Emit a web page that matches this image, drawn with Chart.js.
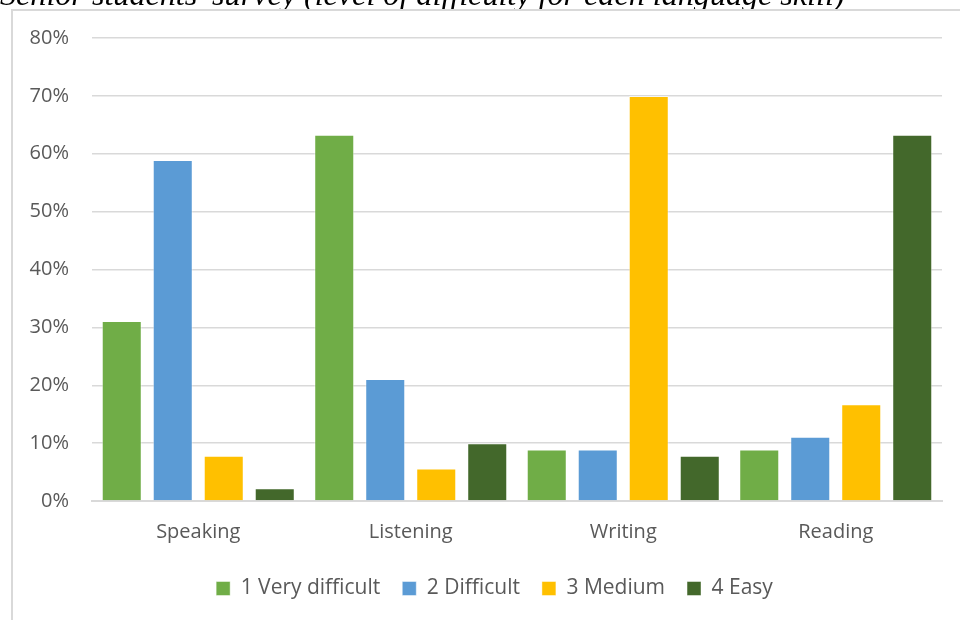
<!DOCTYPE html>
<html>
<head>
<meta charset="utf-8">
<script src="https://cdn.jsdelivr.net/npm/chart.js@4"></script>
<style>
  html, body { margin: 0; padding: 0; background: #fff; overflow: hidden; }
  body { width: 960px; height: 620px; position: relative; }
  #title { position: absolute; left: 0; top: 0; }
  #frame {
    position: absolute; left: 11px; top: 9px; width: 960px; height: 620px;
    border-left: 2px solid #d9d9d9; border-top: 2px solid #d9d9d9;
    background: #fff;
  }
  #frame canvas { position: absolute; left: 0; top: 0; }
</style>
</head>
<body>
<canvas id="title" width="960" height="20"></canvas>
<div id="frame"><canvas id="chart" width="947" height="609"></canvas></div>
<script>
// data (percent of respondents)
const skills = ["Speaking", "Listening", "Writing", "Reading"];
const levels = ["1 Very difficult", "2 Difficult", "3 Medium", "4 Easy"];
const veryDifficult = [31.1, 63.3, 8.9, 8.9];
const difficult = [58.9, 21.1, 8.9, 11.1];
const medium = [7.8, 5.6, 70.0, 16.7];
const easy = [2.2, 10.0, 7.8, 63.3];
const yTicks = [0, 10, 20, 30, 40, 50, 60, 70, 80];

const colors = ["#70ad47", "#5b9bd5", "#ffc000", "#43682b"];
const series = [veryDifficult, difficult, medium, easy];

// the caption above the chart, mostly cut off in the original
(function () {
  const title = "Senior students' survey (level of difficulty for each language skill)";
  const ctx = document.getElementById("title").getContext("2d");
  const fam = "'Liberation Serif', 'DejaVu Serif', serif";
  ctx.font = "italic 26px " + fam;
  const fs = 26 * 845 / ctx.measureText(title).width;
  ctx.font = "italic " + fs + "px " + fam;
  ctx.fillStyle = "#000";
  ctx.textBaseline = "alphabetic";
  ctx.fillText(title, 0, 5);
})();

const font = { family: "'Open Sans', 'Noto Sans', sans-serif", size: 20 };

// the legend sits a little right of centre in the original
const legendShift = {
  id: "legendShift",
  afterLayout(chart) {
    chart.legend.left += 17;
    chart.legend.right += 17;
  },
};

new Chart(document.getElementById("chart"), {
  type: "bar",
  data: {
    labels: skills,
    datasets: levels.map((name, i) => ({
      label: name,
      data: series[i],
      backgroundColor: colors[i],
      borderColor: "rgba(255,255,255,0.45)",
      borderWidth: 1,
      categoryPercentage: 0.96,
      barPercentage: 0.785,
    })),
  },
  plugins: [legendShift],
  options: {
    responsive: false,
    animation: false,
    layout: { padding: { left: 0, right: 18, top: 27, bottom: 11 } },
    plugins: {
      tooltip: { enabled: false },
      legend: {
        position: "bottom",
        labels: {
          color: "#595959",
          font: { family: font.family, size: 21 },
          boxWidth: 14,
          boxHeight: 14,
          padding: 22,
        },
      },
    },
    scales: {
      x: {
        grid: { display: false, drawTicks: false },
        border: { color: "#d9d9d9", width: 2 },
        ticks: { color: "#595959", font: font, padding: 19 },
        afterFit: (s) => { s.height = 55; },
      },
      y: {
        min: 0,
        max: 80,
        afterBuildTicks: (s) => { s.ticks = yTicks.map((v) => ({ value: v })); },
        grid: { color: "#d9d9d9", lineWidth: 1.5, drawTicks: false },
        border: { display: false },
        ticks: {
          color: "#595959",
          font: font,
          padding: 23,
          callback: (v) => v + "%",
        },
        afterFit: (s) => {
          s.width = 79;
          s.paddingTop = 12;
          s.paddingBottom = 12;
        },
      },
    },
  },
});
</script>
</body>
</html>
